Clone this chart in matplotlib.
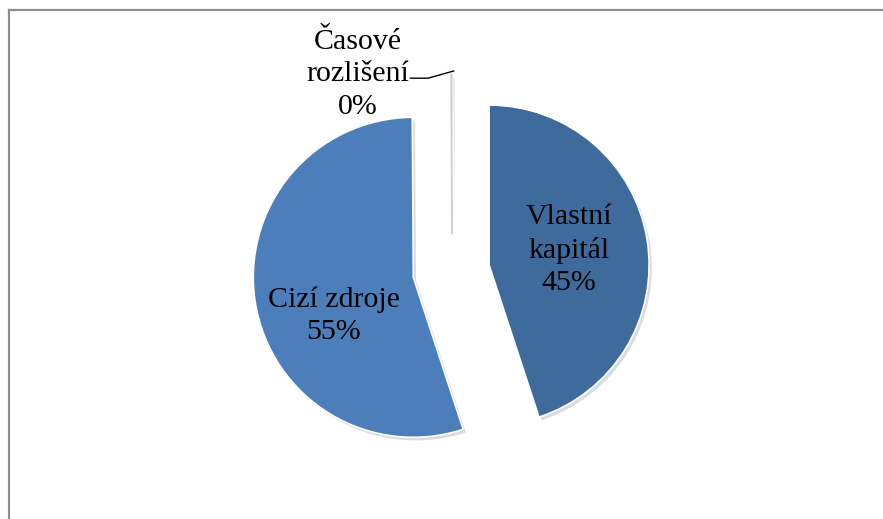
import numpy as np
import matplotlib
matplotlib.use("Agg")
import matplotlib.pyplot as plt
from matplotlib.lines import Line2D

# data
categories = ["Vlastní kapitál", "Cizí zdroje", "Časové rozlišení"]
values = [45.0, 55.0, 0.1]
colors = ["#3F6A9C", "#4C7EBB", "#FFFFFF"]

plt.rcParams["font.family"] = ["Liberation Serif", "DejaVu Serif"]

W, H = 883, 519
R = 160.0            # pie radius in pixels
cx, cy = 452.0, 271.0  # pie centre in pixels (from top-left)

fig = plt.figure(figsize=(W / 100, H / 100), dpi=100)
ax = fig.add_axes([0, 0, 1, 1])

wedges, _ = ax.pie(
    values,
    colors=colors,
    startangle=90,
    counterclock=False,
    explode=[0.235, 0.245, 0.23],
    radius=1.0,
    wedgeprops=dict(edgecolor="white", linewidth=1.2),
    shadow=dict(ox=0.012, oy=-0.014, facecolor="#c4c4c4", edgecolor="none", alpha=0.6),
)
wedges[2].set_edgecolor("#d0d0d0")
wedges[2].set_linewidth(1.0)

ax.set_xlim(-cx / R, (W - cx) / R)
ax.set_ylim(-(H - cy) / R, cy / R)
ax.set_aspect("equal", adjustable="box")
ax.axis("off")

pct = [v / sum(values) * 100 for v in values]
fs = 21.5
ls = 1.32
ax.text(0.73, 0.13, "Vlastní\nkapitál\n%.0f%%" % pct[0], ha="center", va="center",
        fontsize=fs, multialignment="center", linespacing=ls)
ax.text(-0.74, -0.28, "Cizí zdroje\n%.0f%%" % pct[1], ha="center", va="center",
        fontsize=fs, multialignment="center", linespacing=ls)
ax.text(-0.59, 1.23, "Časové\nrozlišení\n%.0f%%" % pct[2], ha="center", va="center",
        fontsize=fs, multialignment="center", linespacing=ls)

# leader line for the tiny slice
ax.plot([-0.26, -0.15, 0.01], [1.205, 1.205, 1.25], color="black", linewidth=1.0)

# chart area border (extends past right and bottom edges)
fc = "#8f8f8f"
fig.add_artist(Line2D([8.5 / W, 8.5 / W], [0, 1 - 10 / H], color=fc, linewidth=1.6))
fig.add_artist(Line2D([8.5 / W, 1.0], [1 - 10 / H, 1 - 10 / H], color=fc, linewidth=1.6))

fig.savefig("out.png", dpi=100)
